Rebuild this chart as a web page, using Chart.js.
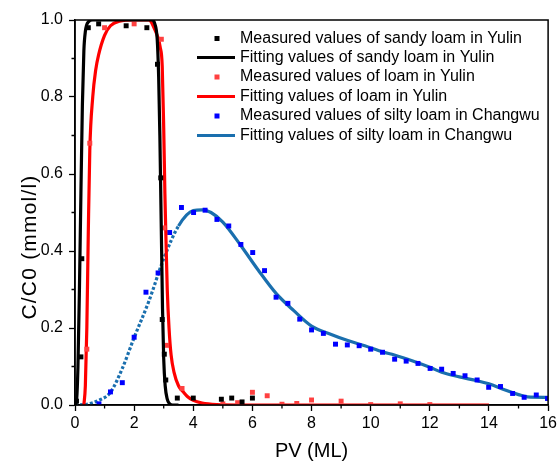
<!DOCTYPE html>
<html>
<head>
<meta charset="utf-8">
<script src="https://cdn.jsdelivr.net/npm/chart.js@4"></script>
<style>
  html, body { margin: 0; padding: 0; background: #fff; }
  #wrap { width: 560px; height: 467px; }
</style>
</head>
<body>
<div id="wrap"><canvas id="btcChart"></canvas></div>
<script>
// measured points: [PV, C/C0]
const sandyMeasured = [
  [0.05, 0.01], [0.2, 0.125], [0.23, 0.38], [0.45, 0.98], [0.8, 0.99],
  [1.73, 0.985], [2.43, 0.98], [2.79, 0.885], [2.9, 0.59], [2.95, 0.222],
  [3.02, 0.132], [3.07, 0.065], [3.46, 0.018], [4.0, 0.018], [4.95, 0.015],
  [5.3, 0.018], [5.65, 0.008], [6.0, 0.018]
];
const sandyFitted = [
  [0, 0], [0.05, 0.01], [0.1, 0.1], [0.15, 0.3], [0.2, 0.55], [0.25, 0.78],
  [0.3, 0.92], [0.35, 0.97], [0.45, 0.995], [0.6, 1.0], [2.6, 1.0],
  [2.7, 0.99], [2.78, 0.95], [2.83, 0.85], [2.87, 0.7], [2.9, 0.55],
  [2.93, 0.4], [2.96, 0.25], [3.0, 0.12], [3.05, 0.05], [3.12, 0.015],
  [3.2, 0.003], [3.3, 0], [3.5, 0]
];
const loamMeasured = [
  [0.4, 0.145], [0.5, 0.68], [1.0, 0.98], [2.0, 0.99], [2.92, 0.95],
  [3.01, 0.46], [3.1, 0.155], [3.62, 0.043], [5.0, 0.003], [5.5, 0.006],
  [6.0, 0.033], [6.5, 0.024], [7.0, 0.002], [7.5, 0.004], [8.0, 0.013],
  [9.0, 0.01], [10.0, 0.001], [11.0, 0.003], [12.0, 0.001]
];
const loamFitted = [
  [0.3, 0], [0.35, 0.05], [0.4, 0.2], [0.45, 0.45], [0.5, 0.66], [0.6, 0.8],
  [0.7, 0.87], [0.8, 0.91], [1.0, 0.96], [1.2, 0.985], [1.5, 0.997],
  [2.0, 1.0], [2.5, 1.0], [2.7, 0.975], [2.8, 0.955], [2.88, 0.93],
  [2.95, 0.88], [3.0, 0.72], [3.04, 0.55], [3.08, 0.42], [3.12, 0.3],
  [3.18, 0.2], [3.25, 0.13], [3.35, 0.085], [3.5, 0.05], [3.65, 0.035],
  [3.8, 0.022], [4.0, 0.012], [4.3, 0.005], [4.8, 0.001], [5.5, 0], [14.0, 0]
];
const siltyMeasured = [
  [0.81, 0.003], [1.2, 0.034], [1.6, 0.058], [2.0, 0.176], [2.4, 0.293],
  [2.81, 0.343], [3.2, 0.448], [3.6, 0.513], [4.01, 0.5], [4.4, 0.506],
  [4.8, 0.482], [5.2, 0.465], [5.61, 0.417], [6.01, 0.396], [6.41, 0.349],
  [6.8, 0.28], [7.2, 0.264], [7.6, 0.223], [8.0, 0.195], [8.4, 0.186],
  [8.81, 0.158], [9.21, 0.156], [9.61, 0.154], [10.0, 0.145], [10.4, 0.137],
  [10.81, 0.119], [11.2, 0.114], [11.6, 0.108], [12.01, 0.095], [12.4, 0.093],
  [12.79, 0.082], [13.19, 0.076], [13.6, 0.065], [13.99, 0.046], [14.39, 0.048],
  [14.8, 0.03], [15.19, 0.02], [15.6, 0.026], [15.98, 0.017]
];
const siltyFitted = [
  [0, 0], [0.4, 0.002], [0.8, 0.012], [1.2, 0.033], [1.6, 0.095], [2.0, 0.175],
  [2.5, 0.27], [3.0, 0.38], [3.5, 0.465], [4.0, 0.505], [4.3, 0.507],
  [4.6, 0.5], [5.0, 0.475], [5.6, 0.415], [6.2, 0.35], [6.8, 0.29],
  [7.4, 0.245], [8.0, 0.205], [8.6, 0.185], [9.2, 0.168], [9.8, 0.154],
  [10.4, 0.138], [10.8, 0.13], [11.4, 0.115], [12.0, 0.098], [12.4, 0.085],
  [13.0, 0.073], [13.6, 0.063], [14.0, 0.055], [14.5, 0.04], [15.0, 0.027],
  [15.3, 0.021], [16.0, 0.02]
];

const xTicks = [0, 2, 4, 6, 8, 10, 12, 14, 16];
const yTicks = [0.0, 0.2, 0.4, 0.6, 0.8, 1.0];

const FONT = "'Liberation Sans', Arial, sans-serif";
const toXY = arr => arr.map(p => ({ x: p[0], y: p[1] }));
const isMajorX = v => xTicks.includes(v);
const isMajorY = v => yTicks.some(t => Math.abs(t - v) < 1e-6);

function measured(label, data, color) {
  return {
    label, data: toXY(data), showLine: false,
    pointStyle: "rect", pointRadius: 3.5, pointBorderWidth: 0,
    backgroundColor: color, borderColor: color, _kind: "point"
  };
}
function fitted(label, data, color, dashBelow) {
  return {
    label, data: toXY(data), showLine: true, pointRadius: 0,
    borderColor: color, backgroundColor: color, borderWidth: 3.2,
    cubicInterpolationMode: "monotone", _kind: "line",
    segment: dashBelow ? {
      borderDash: c => (c.p1.parsed.x <= dashBelow ? [3, 2] : undefined)
    } : undefined
  };
}

// frame, short minor ticks, legend and y title drawn by hand
const extras = {
  id: "extras",
  afterDraw(chart) {
    const { ctx, chartArea: a, scales } = chart;
    ctx.save();
    ctx.strokeStyle = "#000";
    ctx.lineWidth = 1.5;
    ctx.strokeRect(a.left, a.top, a.right - a.left, a.bottom - a.top);

    ctx.lineWidth = 1.3;
    ctx.beginPath();
    for (let v = 1; v < 16; v += 2) {
      const px = scales.x.getPixelForValue(v);
      ctx.moveTo(px, a.bottom);
      ctx.lineTo(px, a.bottom + 3.5);
    }
    for (let k = 1; k < 10; k += 2) {
      const py = scales.y.getPixelForValue(k / 10);
      ctx.moveTo(a.left, py);
      ctx.lineTo(a.left - 3.5, py);
    }
    ctx.stroke();

    const rows = [38.5, 57.5, 77, 96.5, 116, 135.5];
    ctx.font = "16px " + FONT;
    ctx.textBaseline = "middle";
    chart.data.datasets.forEach((ds, i) => {
      const y = rows[i];
      ctx.fillStyle = ds.borderColor;
      ctx.strokeStyle = ds.borderColor;
      if (ds._kind === "point") {
        ctx.fillRect(214.5, y - 2.5, 5, 5);
      } else {
        ctx.lineWidth = 3;
        ctx.beginPath();
        ctx.moveTo(197, y);
        ctx.lineTo(235, y);
        ctx.stroke();
      }
      ctx.fillStyle = "#000";
      ctx.fillText(ds.label, 240, y);
    });

    ctx.translate(30, 247);
    ctx.rotate(-Math.PI / 2);
    ctx.textAlign = "center";
    ctx.font = "21px " + FONT;
    ctx.letterSpacing = "1.2px";
    ctx.fillText("C/C0 (mmol/l)", 0, 0);
    ctx.restore();
  }
};

new Chart(document.getElementById("btcChart"), {
  type: "scatter",
  data: {
    datasets: [
      measured("Measured values of sandy loam in Yulin", sandyMeasured, "#000000"),
      fitted("Fitting values of sandy loam in Yulin", sandyFitted, "#000000"),
      measured("Measured values of loam in Yulin", loamMeasured, "#ff4040"),
      fitted("Fitting values of loam in Yulin", loamFitted, "#ff0000"),
      measured("Measured values of silty loam in Changwu", siltyMeasured, "#0000ff"),
      fitted("Fitting values of silty loam in Changwu", siltyFitted, "#1a6fae", 3.5)
    ]
  },
  options: {
    responsive: true,
    maintainAspectRatio: false,
    animation: false,
    layout: { padding: { top: 20, right: 7, left: 0, bottom: 0 } },
    plugins: { legend: { display: false }, tooltip: { enabled: false } },
    scales: {
      x: {
        type: "linear", min: 0, max: 16,
        afterFit: s => { s.height = 62; },
        afterBuildTicks: s => {
          s.ticks = [];
          for (let v = 0; v <= 16; v++) s.ticks.push({ value: v });
        },
        ticks: {
          color: "#000", font: { size: 16, family: FONT }, padding: 3,
          autoSkip: false, maxRotation: 0,
          callback: v => (isMajorX(v) ? String(v) : "")
        },
        grid: {
          drawOnChartArea: false, tickLength: 6, tickWidth: 1.3,
          tickColor: c => (isMajorX(c.tick.value) ? "#000" : "rgba(0,0,0,0)")
        },
        border: { color: "#000", width: 1.5 },
        title: {
          display: true, text: "PV (ML)", color: "#000",
          font: { size: 20, family: FONT }, padding: { top: 11 }
        }
      },
      y: {
        min: 0, max: 1,
        afterFit: s => { s.width = 75; },
        afterBuildTicks: s => {
          s.ticks = [];
          for (let k = 0; k <= 10; k++) s.ticks.push({ value: k / 10 });
        },
        ticks: {
          color: "#000", font: { size: 16, family: FONT }, padding: 6,
          autoSkip: false,
          callback: v => (isMajorY(v) ? v.toFixed(1) : "")
        },
        grid: {
          drawOnChartArea: false, tickLength: 6, tickWidth: 1.3,
          tickColor: c => (isMajorY(c.tick.value) ? "#000" : "rgba(0,0,0,0)")
        },
        border: { color: "#000", width: 1.5 }
      }
    }
  },
  plugins: [extras]
});
</script>
</body>
</html>
